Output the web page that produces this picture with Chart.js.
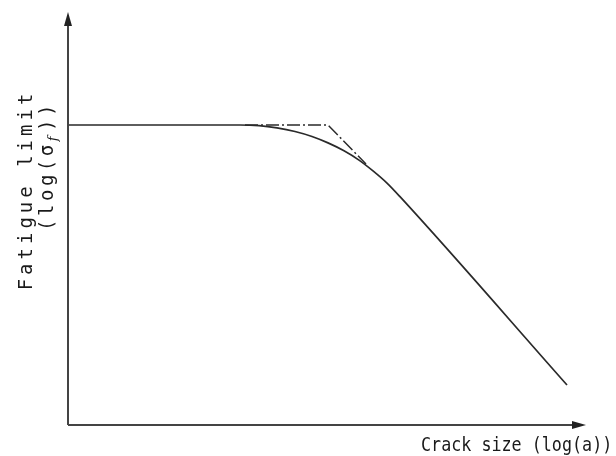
<!DOCTYPE html>
<html>
<head>
<meta charset="utf-8">
<script src="https://cdn.jsdelivr.net/npm/chart.js@4.4.0/dist/chart.umd.min.js"></script>
<style>
  html, body { margin: 0; padding: 0; background: #fff; }
  #wrap { width: 616px; height: 456px; }
</style>
</head>
<body>
<div id="wrap"><canvas id="fatigueChart" width="616" height="456"></canvas></div>
<script>
// crack size (log a) vs fatigue limit (log sigma_f), arbitrary units
const curveX = [0, 172, 191, 209, 227, 244, 260, 276, 291, 305, 319, 332, 499];
const curveY = [300, 300, 299.3, 297.1, 293.5, 288.5, 282.1, 274.2, 264.9, 254.1, 241.9, 228.3, 40];

// asymptotes (dash-dot)
const asymX = [177, 260, 298];
const asymY = [300, 300, 261];

const xMax = 520;
const yMax = 415;

const xLabel = 'Crack size (log(a))';
const yLabel1 = 'Fatigue limit';

function toPoints(xs, ys) {
    return xs.map((x, i) => ({ x: x, y: ys[i] }));
}

const FONT = '19px "DejaVu Sans Mono"';

// draws axes with arrows + axis titles
const axesPlugin = {
    id: 'axesPlugin',
    afterDraw(chart) {
        const ctx = chart.ctx;
        const a = chart.chartArea;
        const x0 = a.left, y0 = a.bottom;
        ctx.save();
        ctx.strokeStyle = '#444';
        ctx.fillStyle = '#222';
        ctx.lineWidth = 2;
        ctx.beginPath();
        ctx.moveTo(x0, y0);
        ctx.lineTo(x0, 22);
        ctx.moveTo(x0, y0);
        ctx.lineTo(576, y0);
        ctx.stroke();
        // arrow heads
        ctx.beginPath();
        ctx.moveTo(x0, 12);
        ctx.lineTo(x0 - 4, 26);
        ctx.lineTo(x0 + 4, 26);
        ctx.closePath();
        ctx.fill();
        ctx.beginPath();
        ctx.moveTo(586, y0);
        ctx.lineTo(572, y0 - 4);
        ctx.lineTo(572, y0 + 4);
        ctx.closePath();
        ctx.fill();

        // x title (slightly condensed)
        ctx.fillStyle = '#1a1a1a';
        ctx.font = FONT;
        ctx.textBaseline = 'alphabetic';
        ctx.textAlign = 'left';
        ctx.save();
        ctx.translate(421, 451);
        ctx.scale(0.88, 1);
        ctx.fillText(xLabel, 0, 0);
        ctx.restore();

        // y title (rotated)
        ctx.translate(0, 190);
        ctx.rotate(-Math.PI / 2);
        ctx.textBaseline = 'alphabetic';
        ctx.textAlign = 'center';
        ctx.letterSpacing = '4px';
        ctx.fillText(yLabel1, 0, 32);
        // second line: (log(σf))
        ctx.letterSpacing = '3.5px';
        const partA = '(log(σ';
        const partB = 'f';
        const partC = '))';
        ctx.font = FONT;
        const wA = ctx.measureText(partA).width;
        const wC = ctx.measureText(partC).width;
        ctx.font = 'italic 13px "DejaVu Serif"';
        const wB = ctx.measureText(partB).width;
        const total = wA + wB + wC;
        let sx = 23 - total / 2;
        ctx.textAlign = 'left';
        ctx.font = FONT;
        ctx.fillText(partA, sx, 53);
        ctx.font = 'italic 13px "DejaVu Serif"';
        ctx.fillText(partB, sx + wA, 57);
        ctx.font = FONT;
        ctx.fillText(partC, sx + wA + wB + 2, 53);
        ctx.restore();
    }
};

const ctx = document.getElementById('fatigueChart').getContext('2d');
new Chart(ctx, {
    type: 'line',
    data: {
        datasets: [
            {
                label: 'Fatigue limit',
                data: toPoints(curveX, curveY),
                borderColor: '#2a2a2a',
                borderWidth: 1.7,
                pointRadius: 0,
                cubicInterpolationMode: 'monotone',
                fill: false
            },
            {
                label: 'Asymptotes',
                data: toPoints(asymX, asymY),
                borderColor: '#2a2a2a',
                borderWidth: 1.5,
                borderDash: [13, 3, 2, 3],
                pointRadius: 0,
                tension: 0,
                fill: false
            }
        ]
    },
    options: {
        responsive: false,
        animation: false,
        layout: { padding: { left: 68, right: 28, top: 10, bottom: 31 } },
        scales: {
            x: { type: 'linear', min: 0, max: xMax, display: false },
            y: { type: 'linear', min: 0, max: yMax, display: false }
        },
        plugins: {
            legend: { display: false },
            tooltip: { enabled: false }
        }
    },
    plugins: [axesPlugin]
});
</script>
</body>
</html>
